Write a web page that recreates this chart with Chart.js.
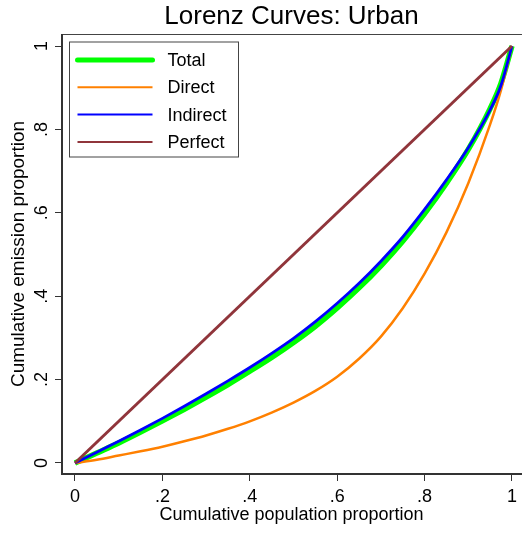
<!DOCTYPE html>
<html>
<head>
<meta charset="utf-8">
<script src="https://cdn.jsdelivr.net/npm/chart.js@4/dist/chart.umd.min.js"></script>
<style>
  html, body { margin: 0; padding: 0; background: #fff; }
  #lorenz { display: block; }
</style>
</head>
<body>
<canvas id="lorenz" width="522" height="533"></canvas>
<script>
// cumulative population proportion (x) and emission shares (y)
const popShare      = [0, 0.05, 0.1, 0.15, 0.2, 0.25, 0.3, 0.35, 0.4, 0.45, 0.5, 0.55, 0.6, 0.65, 0.7, 0.75, 0.8, 0.85, 0.9, 0.95, 0.975, 1];
const totalShare    = [0, 0.024, 0.048, 0.074, 0.101, 0.129, 0.158, 0.188, 0.220, 0.253, 0.289, 0.328, 0.372, 0.420, 0.473, 0.532, 0.598, 0.671, 0.752, 0.850, 0.911, 1];
const directShare   = [0, 0.008, 0.018, 0.028, 0.039, 0.052, 0.066, 0.082, 0.100, 0.121, 0.145, 0.173, 0.207, 0.250, 0.303, 0.371, 0.454, 0.553, 0.671, 0.812, 0.895, 1];
const indirectShare = [0, 0.026, 0.052, 0.079, 0.107, 0.136, 0.166, 0.197, 0.229, 0.263, 0.299, 0.339, 0.383, 0.431, 0.484, 0.542, 0.608, 0.679, 0.756, 0.847, 0.906, 1];
const perfectX = [0, 1];
const perfectY = [0, 1];

const seriesNames = ["Total", "Direct", "Indirect", "Perfect"];
const tickValues = [0, 0.2, 0.4, 0.6, 0.8, 1];
const tickLabels = ["0", ".2", ".4", ".6", ".8", "1"];

const FONT = "'Liberation Sans', Arial, Helvetica, sans-serif";

function toPoints(xs, ys) {
  return xs.map((x, i) => ({ x: x, y: ys[i] }));
}

function fixedTicks(scale) {
  scale.ticks = tickValues.map((v) => ({ value: v }));
}

// plot frame, rotated y tick labels and the boxed legend
const stataBits = {
  id: "stataBits",
  afterDraw(chart) {
    const ctx = chart.ctx;
    const area = chart.chartArea;
    const y = chart.scales.y;

    ctx.save();
    // frame: thin top, heavier left and bottom, nothing on the right edge
    ctx.strokeStyle = "#444";
    ctx.lineWidth = 1;
    ctx.beginPath();
    ctx.moveTo(area.left, area.top + 0.5);
    ctx.lineTo(area.right + 1, area.top + 0.5);
    ctx.stroke();
    ctx.strokeStyle = "#333";
    ctx.lineWidth = 2;
    ctx.beginPath();
    ctx.moveTo(area.left, area.top);
    ctx.lineTo(area.left, area.bottom);
    ctx.lineTo(area.right + 1, area.bottom);
    ctx.stroke();

    // y tick labels, reading bottom to top
    ctx.fillStyle = "#000";
    ctx.font = "18px " + FONT;
    ctx.textAlign = "center";
    ctx.textBaseline = "alphabetic";
    tickValues.forEach((v, i) => {
      const py = y.getPixelForValue(v);
      ctx.save();
      ctx.translate(area.left - 15, py);
      ctx.rotate(-Math.PI / 2);
      ctx.fillText(tickLabels[i], 0, 0);
      ctx.restore();
    });

    // legend
    const lx = area.left + 7.5;
    const ly = area.top + 8;
    const lw = 169;
    const lh = 115;
    ctx.fillStyle = "#fff";
    ctx.fillRect(lx, ly, lw, lh);
    ctx.strokeStyle = "#444";
    ctx.lineWidth = 1;
    ctx.strokeRect(lx, ly, lw, lh);
    ctx.textAlign = "left";
    ctx.textBaseline = "middle";
    ctx.font = "18px " + FONT;
    chart.data.datasets.forEach((ds, i) => {
      const ry = ly + 18 + i * 27.3;
      ctx.strokeStyle = ds.borderColor;
      ctx.lineWidth = i === 0 ? 5 : 2;
      ctx.lineCap = i === 0 ? "round" : "butt";
      ctx.beginPath();
      ctx.moveTo(lx + 8, ry);
      ctx.lineTo(lx + 83, ry);
      ctx.stroke();
      ctx.fillStyle = "#000";
      ctx.fillText(ds.label, lx + 98, ry + 1);
    });
    ctx.restore();
  },
};

const lorenz_chart = new Chart(document.getElementById("lorenz"), {
  type: "scatter",
  data: {
    datasets: [
      { label: seriesNames[0], data: toPoints(popShare, totalShare), borderColor: "#00ff00", borderWidth: 5.5, order: 4 },
      { label: seriesNames[1], data: toPoints(popShare, directShare), borderColor: "#ff8000", borderWidth: 2.5, order: 3 },
      { label: seriesNames[2], data: toPoints(popShare, indirectShare), borderColor: "#0000ff", borderWidth: 2.8, order: 2 },
      { label: seriesNames[3], data: toPoints(perfectX, perfectY), borderColor: "#90353b", borderWidth: 3, order: 1 },
    ],
  },
  options: {
    responsive: false,
    animation: false,
    showLine: true,
    elements: {
      point: { radius: 0, hoverRadius: 0 },
      line: { cubicInterpolationMode: "monotone", fill: false },
    },
    layout: { padding: { left: 0, right: 1, top: 0, bottom: 0 } },
    plugins: {
      legend: { display: false },
      tooltip: { enabled: false },
      title: {
        display: true,
        text: "Lorenz Curves: Urban",
        fullSize: false,
        color: "#000",
        font: { family: FONT, size: 26, weight: "normal" },
        padding: { top: 1.3, bottom: 1.5 },
      },
    },
    scales: {
      x: {
        type: "linear",
        min: -0.02975,
        max: 1.0206,
        afterBuildTicks: fixedTicks,
        afterFit: (scale) => { scale.height = 59; },
        grid: { drawOnChartArea: false, drawTicks: true, tickLength: 7, color: "#333", tickWidth: 1 },
        border: { display: false },
        ticks: {
          color: "#000",
          font: { family: FONT, size: 18 },
          padding: 5,
          maxRotation: 0,
          callback: (v) => tickLabels[tickValues.indexOf(v)],
        },
        title: {
          display: true,
          text: "Cumulative population proportion",
          color: "#000",
          font: { family: FONT, size: 18 },
          padding: { top: 0, bottom: 7.5 },
        },
      },
      y: {
        type: "linear",
        min: -0.02638,
        max: 1.0288,
        afterBuildTicks: fixedTicks,
        afterFit: (scale) => { scale.width = 62; },
        grid: { drawOnChartArea: false, drawTicks: true, tickLength: 7, color: "#333", tickWidth: 1 },
        border: { display: false },
        ticks: { display: false },
        title: {
          display: true,
          text: "Cumulative emission proportion",
          color: "#000",
          font: { family: FONT, size: 19 },
          padding: { top: 7, bottom: 0 },
        },
      },
    },
  },
  plugins: [stataBits],
});
</script>
</body>
</html>
